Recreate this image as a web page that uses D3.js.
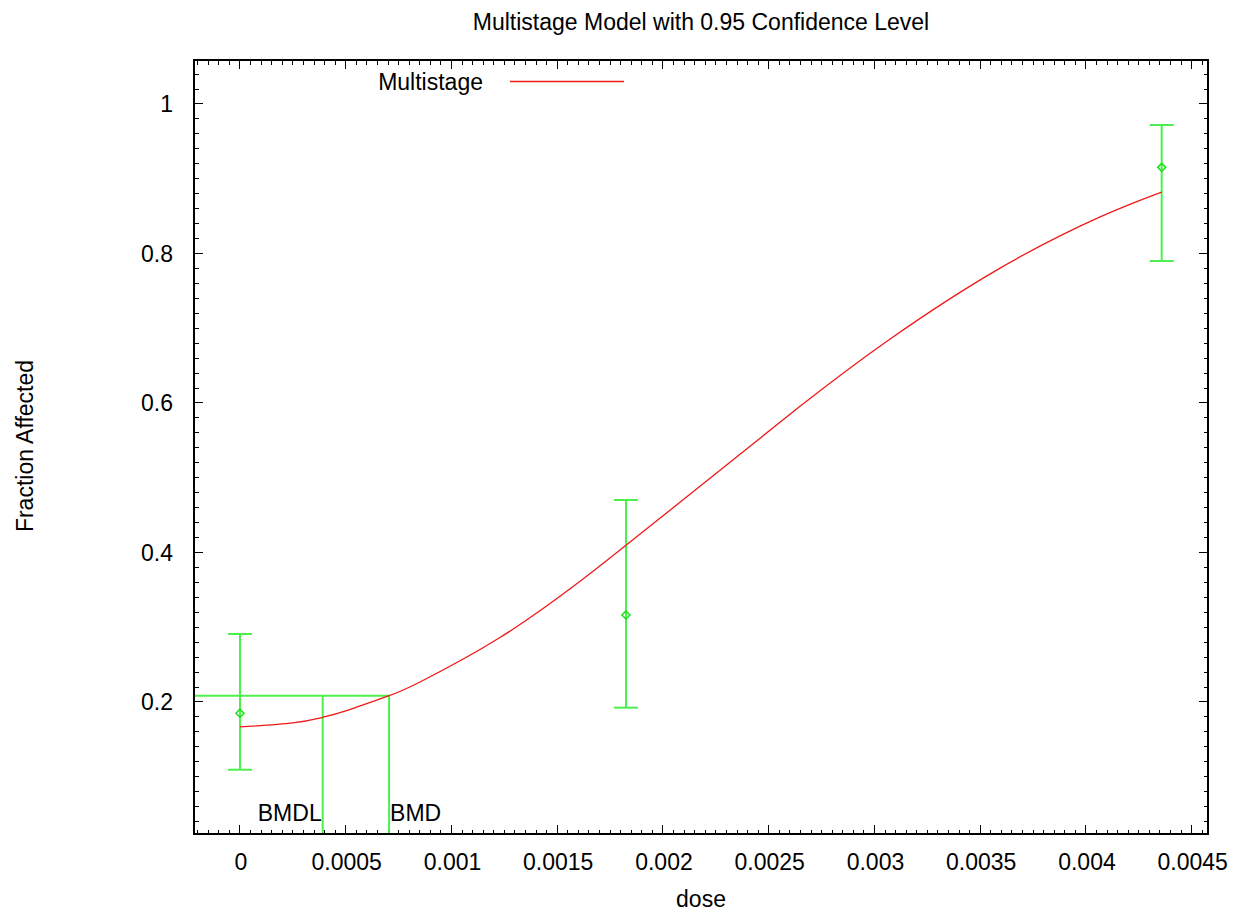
<!DOCTYPE html>
<html>
<head>
<meta charset="utf-8">
<script src="https://cdn.jsdelivr.net/npm/d3@7"></script>
<style>
  body { margin: 0; background: #fff; }
  svg text { font-family: "Liberation Sans", Arial, sans-serif; font-size: 23px; fill: #000; }
</style>
</head>
<body>
<div id="chart"></div>
<script>
// observed dose groups with 95% confidence bars
const doseLevels = [0, 0.001825, 0.004358];
const fractionObserved = [0.185, 0.3164, 0.9153];
const ciLower = [0.1094, 0.1924, 0.790];
const ciUpper = [0.291, 0.4702, 0.9719];

// fitted multistage curve
const curveDose = [0, 0.00025, 0.000391, 0.0005, 0.000705, 0.000851, 0.001229, 0.001608,
  0.001825, 0.002175, 0.002648, 0.003074, 0.003594, 0.004067, 0.004358];
const curveFraction = [0.1666, 0.172, 0.1795, 0.188, 0.2084, 0.2268, 0.2862, 0.3615,
  0.4097, 0.4885, 0.5955, 0.6857, 0.7805, 0.8490, 0.8822];

const bmdl = 0.000391;
const bmd = 0.000705;
const bmrLevel = 0.2084;
const bmdLabelLevel = 0.052;

const xTickValues = [0, 0.0005, 0.001, 0.0015, 0.002, 0.0025, 0.003, 0.0035, 0.004, 0.0045];
const yTickValues = [0.2, 0.4, 0.6, 0.8, 1];

const titleText = 'Multistage Model with 0.95 Confidence Level';
const xTitle = 'dose';
const yTitle = 'Fraction Affected';
const legendLabel = 'Multistage';

const config = {
  width: 1236, height: 911,
  margin: {top: 60, right: 28, bottom: 77, left: 194},
  green: '#4cf04c', red: '#f01818',
  majorTick: 9, minorTick: 4.5
};

const svg = d3.select('#chart').append('svg')
    .attr('width', config.width)
    .attr('height', config.height);

const plotLeft = config.margin.left, plotTop = config.margin.top;
const plotRight = config.width - config.margin.right, plotBottom = config.height - config.margin.bottom;

const x = d3.scaleLinear().domain([-0.0002175, 0.004577]).range([plotLeft, plotRight]);
const y = d3.scaleLinear().domain([0.02341, 1.05886]).range([plotBottom, plotTop]);

// minor tick positions (every tenth of a major step)
const xMinor = d3.range(-4, 92).map(i => i * 0.00005).filter(v => v >= x.domain()[0] && v <= x.domain()[1]);
const yMinor = d3.range(1, 53).map(i => i * 0.02).filter(v => v >= y.domain()[0] && v <= y.domain()[1]);

const ticks = svg.append('g').attr('stroke', '#000').attr('stroke-width', 1).attr('shape-rendering', 'crispEdges');

function xTick(v, len) {
  ticks.append('line').attr('x1', x(v)).attr('x2', x(v)).attr('y1', plotBottom).attr('y2', plotBottom - len);
  ticks.append('line').attr('x1', x(v)).attr('x2', x(v)).attr('y1', plotTop).attr('y2', plotTop + len);
}
function yTick(v, len) {
  ticks.append('line').attr('y1', y(v)).attr('y2', y(v)).attr('x1', plotLeft).attr('x2', plotLeft + len);
  ticks.append('line').attr('y1', y(v)).attr('y2', y(v)).attr('x1', plotRight).attr('x2', plotRight - len);
}
xMinor.forEach(v => xTick(v, config.minorTick));
yMinor.forEach(v => yTick(v, config.minorTick));
xTickValues.forEach(v => xTick(v, config.majorTick));
yTickValues.forEach(v => yTick(v, config.majorTick));

const fmt = d3.format('~g');

svg.append('g').selectAll('text')
    .data(xTickValues)
  .join('text')
    .attr('x', d => x(d) + 1)
    .attr('y', 869.5)
    .attr('text-anchor', 'middle')
    .text(d => fmt(d));

svg.append('g').selectAll('text')
    .data(yTickValues)
  .join('text')
    .attr('x', 173)
    .attr('y', d => y(d))
    .attr('dy', '0.36em')
    .attr('text-anchor', 'end')
    .text(d => fmt(d));

// BMD / BMDL reference lines
const ref = svg.append('g').attr('stroke', config.green).attr('stroke-width', 2).attr('fill', 'none');
ref.append('line').attr('x1', plotLeft).attr('x2', x(bmd)).attr('y1', y(bmrLevel)).attr('y2', y(bmrLevel));
ref.append('line').attr('x1', x(bmdl)).attr('x2', x(bmdl)).attr('y1', y(bmrLevel)).attr('y2', plotBottom);
ref.append('line').attr('x1', x(bmd)).attr('x2', x(bmd)).attr('y1', y(bmrLevel)).attr('y2', plotBottom);

svg.append('text').attr('x', x(bmdl) - 1).attr('y', y(bmdLabelLevel)).attr('dy', '0.36em')
    .attr('text-anchor', 'end').text('BMDL');
svg.append('text').attr('x', x(bmd) + 1).attr('y', y(bmdLabelLevel)).attr('dy', '0.36em')
    .attr('text-anchor', 'start').text('BMD');

// error bars
const groups = doseLevels.map((d, i) => ({dose: d, p: fractionObserved[i], lo: ciLower[i], hi: ciUpper[i]}));
const bars = svg.append('g').attr('stroke', config.green).attr('stroke-width', 2).attr('fill', 'none');
groups.forEach(g => {
  bars.append('line').attr('x1', x(g.dose)).attr('x2', x(g.dose)).attr('y1', y(g.lo)).attr('y2', y(g.hi));
  bars.append('line').attr('x1', x(g.dose) - 12).attr('x2', x(g.dose) + 12).attr('y1', y(g.lo)).attr('y2', y(g.lo));
  bars.append('line').attr('x1', x(g.dose) - 12).attr('x2', x(g.dose) + 12).attr('y1', y(g.hi)).attr('y2', y(g.hi));
});

// fitted curve
const curve = curveDose.map((d, i) => [d, curveFraction[i]]);
svg.append('path')
    .datum(curve)
    .attr('fill', 'none')
    .attr('stroke', config.red)
    .attr('stroke-width', 1.3)
    .attr('d', d3.line().x(d => x(d[0])).y(d => y(d[1])).curve(d3.curveNatural));

// observed points as diamonds
svg.append('g').selectAll('path')
    .data(groups)
  .join('path')
    .attr('transform', d => `translate(${x(d.dose)},${y(d.p)})`)
    .attr('d', 'M0,-4L4,0L0,4L-4,0Z')
    .attr('fill', 'none')
    .attr('stroke', '#1ee01e')
    .attr('stroke-width', 1.6);

// frame
svg.append('rect')
    .attr('x', plotLeft).attr('y', plotTop)
    .attr('width', plotRight - plotLeft).attr('height', plotBottom - plotTop)
    .attr('fill', 'none').attr('stroke', '#000').attr('stroke-width', 1.2)
    .attr('shape-rendering', 'crispEdges');

// legend
svg.append('text').attr('x', 483).attr('y', 90).attr('text-anchor', 'end').text(legendLabel);
svg.append('line').attr('x1', 510).attr('x2', 624).attr('y1', 81.5).attr('y2', 81.5)
    .attr('stroke', config.red).attr('stroke-width', 1.3);

// titles
svg.append('text').attr('x', 701).attr('y', 29.5).attr('text-anchor', 'middle').text(titleText);
svg.append('text').attr('x', 701).attr('y', 907).attr('text-anchor', 'middle').text(xTitle);
svg.append('text')
    .attr('transform', 'translate(32.7,446) rotate(-90)')
    .attr('text-anchor', 'middle')
    .text(yTitle);
</script>
</body>
</html>
